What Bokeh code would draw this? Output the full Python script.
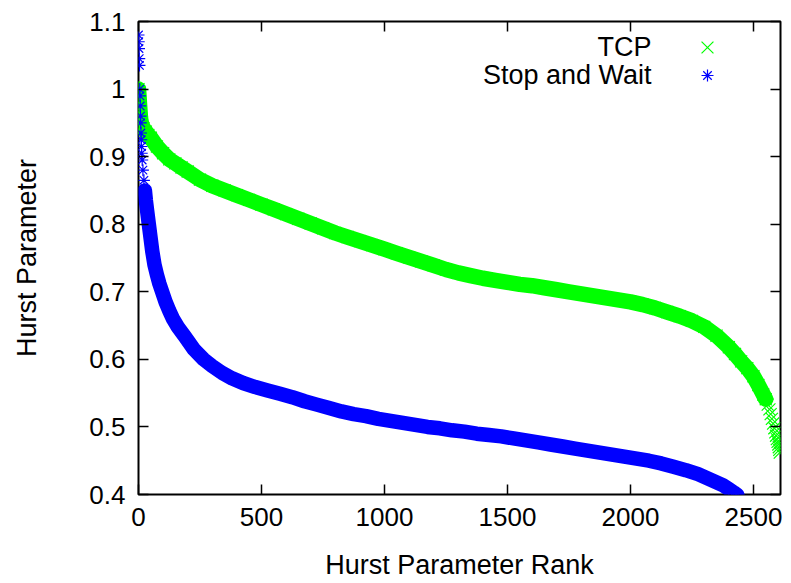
from bokeh.plotting import figure
from bokeh.models import Range1d, FixedTicker, LinearAxis, Legend, LegendItem, Label
from bokeh.embed import file_html
from bokeh.resources import INLINE

# ---- data ----
tcp_rank = [0, 2, 4, 6, 8, 10, 15, 20, 30, 40, 50, 75, 100, 125, 150, 175, 200, 250, 300, 350,
            400, 450, 500, 550, 600, 650, 700, 750, 800, 850, 900, 950, 1000, 1050, 1100, 1150,
            1200, 1250, 1300, 1350, 1400, 1450, 1500, 1550, 1600, 1650, 1700, 1750, 1800, 1850,
            1900, 1950, 2000, 2050, 2100, 2150, 2200, 2250, 2300, 2350, 2400, 2425, 2450, 2475,
            2500, 2520, 2540, 2550, 2558, 2565, 2570, 2575, 2580, 2585, 2589, 2592, 2595, 2598,
            2601, 2603, 2605, 2607]
tcp_hurst = [1.000, 0.990, 0.978, 0.968, 0.958, 0.952, 0.946, 0.942, 0.937, 0.932, 0.928, 0.915,
             0.905, 0.896, 0.890, 0.884, 0.878, 0.866, 0.857, 0.850, 0.843, 0.836, 0.829, 0.822,
             0.815, 0.808, 0.801, 0.794, 0.787, 0.781, 0.775, 0.769, 0.763, 0.757, 0.751, 0.745,
             0.739, 0.733, 0.728, 0.724, 0.720, 0.717, 0.714, 0.711, 0.709, 0.706, 0.703, 0.700,
             0.697, 0.694, 0.691, 0.688, 0.685, 0.681, 0.676, 0.670, 0.664, 0.657, 0.648, 0.635,
             0.618, 0.608, 0.597, 0.587, 0.575, 0.562, 0.548, 0.541, 0.533, 0.526, 0.519, 0.512,
             0.505, 0.498, 0.492, 0.487, 0.482, 0.478, 0.474, 0.470, 0.466, 0.462]

sw_rank = [0, 1, 2, 3, 4, 5, 6, 7, 8, 9, 10, 11, 12, 13, 15, 18, 22, 26, 30, 35, 42, 49, 56, 65,
           75, 85, 96, 110, 125, 140, 160, 190, 225, 265, 300, 340, 380, 425, 475, 525, 575, 625,
           675, 725, 775, 825, 875, 925, 975, 1025, 1075, 1125, 1175, 1225, 1275, 1325, 1375,
           1425, 1475, 1525, 1575, 1625, 1675, 1725, 1775, 1825, 1875, 1925, 1975, 2025, 2075,
           2125, 2175, 2225, 2275, 2325, 2375, 2400, 2420, 2435]
sw_hurst = [1.080, 1.070, 1.060, 1.045, 1.035, 1.000, 0.990, 0.975, 0.960, 0.950, 0.935, 0.925,
            0.915, 0.905, 0.895, 0.880, 0.865, 0.850, 0.835, 0.820, 0.800, 0.780, 0.760, 0.740,
            0.725, 0.712, 0.700, 0.685, 0.672, 0.660, 0.648, 0.633, 0.615, 0.600, 0.590, 0.580,
            0.572, 0.565, 0.559, 0.554, 0.549, 0.544, 0.538, 0.533, 0.528, 0.523, 0.519, 0.516,
            0.512, 0.509, 0.506, 0.503, 0.500, 0.498, 0.495, 0.493, 0.490, 0.488, 0.486, 0.483,
            0.480, 0.477, 0.474, 0.471, 0.468, 0.465, 0.462, 0.459, 0.456, 0.453, 0.450, 0.446,
            0.441, 0.436, 0.430, 0.422, 0.414, 0.408, 0.403, 0.399]

series_names = ["TCP", "Stop and Wait"]
x_ticks = [0, 500, 1000, 1500, 2000, 2500]
x_tick_labels = ["0", "500", "1000", "1500", "2000", "2500"]
y_ticks = [0.4, 0.5, 0.6, 0.7, 0.8, 0.9, 1.0, 1.1]
y_tick_labels = ["0.4", "0.5", "0.6", "0.7", "0.8", "0.9", "1", "1.1"]

GREEN = "#00ff00"
BLUE = "#0000ff"
FONT = "Liberation Sans"

p = figure(width=791, height=583, x_range=Range1d(0, 2610), y_range=Range1d(0.4, 1.1),
           output_backend="svg", toolbar_location=None,
           min_border_left=138, min_border_right=11, min_border_top=21, min_border_bottom=89)
p.background_fill_color = "white"
p.border_fill_color = "white"
p.outline_line_color = "black"
p.outline_line_width = 2
p.xgrid.visible = False
p.ygrid.visible = False

# TCP band (solid core, scattered tail)
tcp_line_end = max(i for i, r in enumerate(tcp_rank) if r <= 2550) + 1
p.line(tcp_rank[:tcp_line_end], tcp_hurst[:tcp_line_end], line_width=15.5, color=GREEN,
       line_join="round", line_cap="round")
tcp_pts = p.scatter(tcp_rank, tcp_hurst, marker="x", size=17, line_color=GREEN, line_width=1.2)

# Stop and Wait band (scattered head, solid core)
sw_line_start = min(i for i, r in enumerate(sw_rank) if r >= 26)
p.line(sw_rank[sw_line_start:], sw_hurst[sw_line_start:], line_width=14.5, color=BLUE,
       line_join="round", line_cap="round")
sw_pts = p.scatter(sw_rank, sw_hurst, marker="asterisk", size=12, line_color=BLUE, line_width=1.2)

# axes
p.xaxis.ticker = FixedTicker(ticks=x_ticks)
p.xaxis.major_label_overrides = dict(zip(x_ticks, x_tick_labels))
p.yaxis.ticker = FixedTicker(ticks=y_ticks)
p.yaxis.major_label_overrides = dict(zip(y_ticks, y_tick_labels))
p.xaxis.axis_label = "Hurst Parameter Rank"
p.yaxis.axis_label = "Hurst Parameter"
for ax in (p.xaxis[0], p.yaxis[0]):
    ax.axis_line_color = None
    ax.major_tick_in = 10
    ax.major_tick_out = 0
    ax.major_tick_line_width = 1.5
    ax.minor_tick_line_color = None
    ax.major_label_text_font = FONT
    ax.major_label_text_font_size = "26px"
    ax.major_label_text_color = "black"
    ax.axis_label_text_font = FONT
    ax.axis_label_text_font_size = "27px"
    ax.axis_label_text_font_style = "normal"
    ax.axis_label_text_color = "black"
p.xaxis.major_label_standoff = 13
p.xaxis.axis_label_standoff = 21
p.yaxis.major_label_standoff = 13
p.yaxis.axis_label_standoff = 44

# mirrored tick marks on the top and right edges (no labels)
top = LinearAxis(ticker=FixedTicker(ticks=x_ticks),
                 major_label_overrides={t: "" for t in x_ticks},
                 major_label_text_color=None, major_label_text_font_size="4px",
                 major_tick_in=10, major_tick_out=0, major_tick_line_width=1.5,
                 minor_tick_line_color=None, axis_line_color=None, major_label_standoff=0)
p.add_layout(top, "above")
right = LinearAxis(ticker=FixedTicker(ticks=y_ticks),
                   major_label_overrides={t: "" for t in y_ticks},
                   major_label_text_color=None, major_label_text_font_size="4px",
                   major_tick_in=10, major_tick_out=0, major_tick_line_width=1.5,
                   minor_tick_line_color=None, axis_line_color=None, major_label_standoff=0)
p.add_layout(right, "right")

# legend: one sample per Legend (gnuplot puts the sample right of the name)
leg_common = dict(padding=0, margin=0, label_width=0, label_standoff=0,
                  label_text_font_size="27px", border_line_color=None, background_fill_alpha=0)
leg_tcp = Legend(items=[LegendItem(label=" ", renderers=[tcp_pts])],
                 location=(548, 426), glyph_width=42, glyph_height=42, **leg_common)
leg_sw = Legend(items=[LegendItem(label=" ", renderers=[sw_pts])],
                location=(554, 404), glyph_width=30, glyph_height=30, **leg_common)
p.add_layout(leg_tcp)
p.add_layout(leg_sw)
for name, yv in zip(series_names, [1.062, 1.0206]):
    p.add_layout(Label(x=2086, y=yv, text=name, text_align="right", text_baseline="middle",
                       text_font=FONT, text_font_size="27px", text_color="black"))

open("out.html", "w").write(file_html(p, INLINE))
